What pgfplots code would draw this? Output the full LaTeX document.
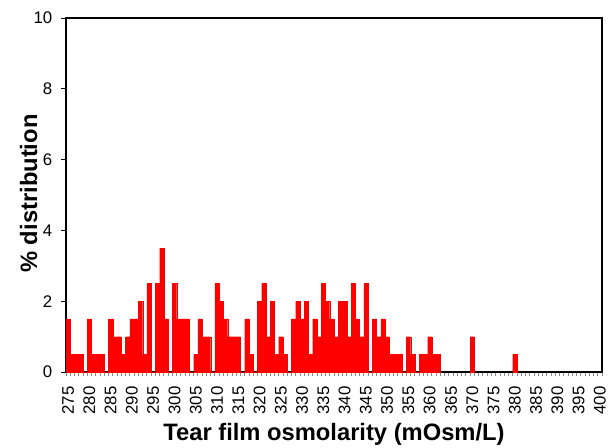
\documentclass[border=0pt]{standalone}
\usepackage{fontspec}
\setmainfont{Liberation Sans}
\usepackage{pgfplots}
\pgfplotsset{compat=1.18}
\begin{document}
\begin{tikzpicture}
\begin{axis}[
  scale only axis,
  width=402pt, height=265.5pt,
  xmin=274.5, xmax=400.5,
  ymin=0, ymax=10,
  ytick={0,2,4,6,8,10},
  xtick={275,280,...,400},
  minor xtick={274.5,275.5,...,400.5},
  xtick style={draw=none},
  minor x tick style={draw=black!45, line width=0.6pt},
  ytick style={draw=black, line width=0.6pt},
  minor tick length=3pt,
  major tick length=3.75pt,
  tick align=outside,
  tick pos=left,
  axis line style={black, line width=0.9pt},
  /pgf/number format/assume math mode=true,
  /pgf/number format/1000 sep={},
  ticklabel style={font=\fontsize{12.6}{14}\selectfont, inner sep=0pt},
  xticklabel style={rotate=90, anchor=east},
  xticklabel shift=7pt,
  yticklabel shift=6.3pt,
  xlabel={Tear film osmolarity (mOsm/L)},
  ylabel={\% distribution},
  label style={font=\fontsize{17.8}{20}\selectfont\bfseries},
  xlabel style={at={(axis description cs:0.5,-0.1949)}, anchor=base, inner sep=0pt},
  ylabel style={at={(axis description cs:-0.0541,0.504)}, anchor=base, inner sep=0pt},
  ybar, bar width=1,
]
\addplot[fill=red, draw=red, line width=0.1pt] coordinates {
(275,1.5) (276,0.5) (277,0.5) (278,0.5) (279,0) (280,1.5) (281,0.5) (282,0.5) (283,0.5) (284,0)
(285,1.5) (286,1.0) (287,1.0) (288,0.5) (289,1.0) (290,1.5) (291,1.5) (292,2.0) (293,0.5) (294,2.5)
(295,0) (296,2.5) (297,3.5) (298,1.5) (299,0) (300,2.5) (301,1.5) (302,1.5) (303,1.5) (304,0)
(305,0.5) (306,1.5) (307,1.0) (308,1.0) (309,0) (310,2.5) (311,2.0) (312,1.5) (313,1.0) (314,1.0)
(315,1.0) (316,0) (317,1.5) (318,0.5) (319,0) (320,2.0) (321,2.5) (322,1.0) (323,2.0) (324,0.5)
(325,1.0) (326,0.5) (327,0) (328,1.5) (329,2.0) (330,1.5) (331,2.0) (332,0.5) (333,1.5) (334,1.0)
(335,2.5) (336,2.0) (337,1.5) (338,1.0) (339,2.0) (340,2.0) (341,1.0) (342,2.5) (343,1.5) (344,1.0)
(345,2.5) (346,0) (347,1.5) (348,1.0) (349,1.5) (350,1.0) (351,0.5) (352,0.5) (353,0.5) (354,0)
(355,1.0) (356,0.5) (357,0) (358,0.5) (359,0.5) (360,1.0) (361,0.5) (362,0.5)
(370,1.0) (380,0.5)
};
\coordinate (sw) at (rel axis cs:0,0);
\coordinate (ne) at (rel axis cs:1,1);
\end{axis}
\pgfresetboundingbox
\path[use as bounding box] ([shift={(-49.5pt,-56.25pt)}]sw) rectangle ([shift={(9.75pt,13.5pt)}]ne);
\end{tikzpicture}
\end{document}
